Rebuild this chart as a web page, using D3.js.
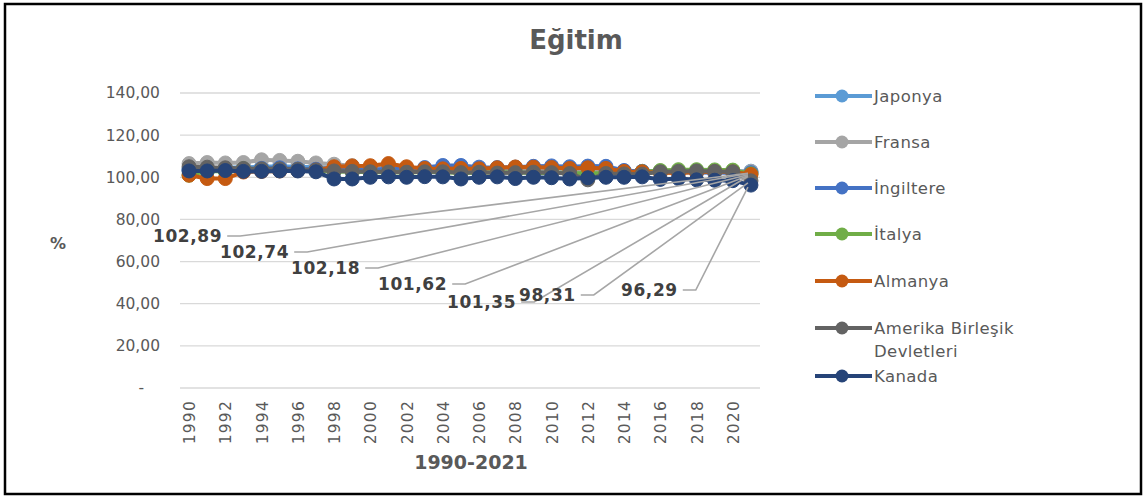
<!DOCTYPE html>
<html>
<head>
<meta charset="utf-8">
<script src="https://cdn.jsdelivr.net/npm/d3@7"></script>
<style>
  html, body { margin: 0; padding: 0; background: #fff; }
  svg { display: block; }
  text { font-family: "DejaVu Sans", sans-serif; }
</style>
</head>
<body>
<svg id="chart" width="1146" height="497"></svg>
<script>
// Education index by country, 1990-2021
const years = d3.range(1990, 2022);
const seriesNames = ["Japonya", "Fransa", "İngiltere", "İtalya", "Almanya", "Amerika Birleşik Devletleri", "Kanada"];

const japonya = [104.0,104.2,104.5,104.8,105.0,105.2,105.0,104.8,104.5,104.0,103.8,103.5,103.6,103.8,104.0,103.9,103.7,103.5,103.4,103.2,103.0,103.1,103.3,103.2,103.0,102.8,102.7,102.6,102.8,102.9,102.9,102.89];
const fransa = [106.5,107.0,106.8,107.0,108.3,108.0,107.6,106.8,106.2,105.5,104.8,104.5,104.2,104.0,103.8,103.9,104.0,103.8,103.6,103.5,103.4,103.2,103.3,103.0,102.9,102.8,102.9,103.0,102.8,102.7,102.8,102.74];
const ingiltere = [103.5,103.8,103.6,103.9,104.2,104.5,104.0,103.8,103.5,103.4,103.6,103.9,104.2,104.6,105.6,105.6,104.8,104.6,104.8,105.2,105.4,105.0,105.3,105.2,103.2,102.8,102.5,102.4,102.3,102.2,102.3,102.18];
const italya = [101.0,103.0,102.8,104.0,103.6,103.5,103.2,103.0,102.8,102.6,102.4,102.5,102.2,102.6,102.4,102.0,102.2,102.4,102.3,102.0,102.2,102.0,101.8,102.0,102.3,102.6,103.2,103.6,103.6,103.5,103.4,101.62];
const almanya = [101.0,99.4,99.4,102.5,102.8,103.0,103.2,103.4,105.0,105.4,105.5,106.5,105.0,104.2,104.0,104.2,104.0,104.5,104.9,104.8,104.6,104.2,104.5,104.2,102.8,102.6,102.2,102.0,102.4,102.6,102.5,101.35];
const amerika = [105.0,104.8,104.5,104.2,104.0,104.0,103.8,103.5,103.0,102.8,102.6,102.5,102.4,102.6,102.6,102.2,102.4,102.0,102.2,102.4,102.2,101.8,98.8,101.8,101.6,101.5,102.6,102.8,103.0,102.8,102.6,98.31];
const kanada = [103.0,103.0,103.2,102.8,102.8,103.0,103.0,102.6,99.2,99.2,100.0,100.2,100.0,100.3,100.2,99.2,100.0,100.2,99.4,100.0,99.8,99.2,99.8,100.0,100.0,100.2,99.0,99.4,98.8,98.6,98.4,96.29];

const yTicks = [0, 20, 40, 60, 80, 100, 120, 140];
const xTickYears = d3.range(1990, 2021, 2);

const colors = ["#5b9bd5", "#a5a5a5", "#4472c4", "#70ad47", "#c55a11", "#636363", "#264478"];
const seriesValues = [japonya, fransa, ingiltere, italya, almanya, amerika, kanada];

const series = seriesNames.map((name, i) => ({
  name, color: colors[i],
  points: years.map((yr, j) => ({ year: yr, value: seriesValues[i][j] }))
}));

const svg = d3.select("#chart");

// outer frame
svg.append("rect").attr("x", 5).attr("y", 4).attr("width", 1136).attr("height", 490)
  .attr("fill", "#fff").attr("stroke", "#000").attr("stroke-width", 2.5);

const x = d3.scalePoint().domain(years).range([180, 760]).padding(0.5);
const y = d3.scaleLinear().domain([0, 140]).range([388, 93]);

const fmt = v => v === 0 ? "-" : d3.format(".2f")(v).replace(".", ",");

// title
svg.append("text").attr("x", 576).attr("y", 49).attr("text-anchor", "middle")
  .attr("font-size", 26).attr("font-weight", "bold").attr("fill", "#595959").text("Eğitim");

// gridlines
svg.append("g").selectAll("line").data(yTicks).join("line")
  .attr("x1", 180).attr("x2", 760)
  .attr("y1", d => y(d)).attr("y2", d => y(d))
  .attr("stroke", "#d9d9d9").attr("stroke-width", 1.3);

// y axis labels
const yAxis = d3.axisLeft(y).tickValues(yTicks).tickFormat(fmt).tickSize(0).tickPadding(0);
const gy = svg.append("g").attr("transform", "translate(160,0)").call(yAxis);
gy.select(".domain").remove();
gy.selectAll("text").attr("font-size", 15.5).attr("fill", "#595959")
  .attr("font-family", "DejaVu Sans, sans-serif")
  .attr("dx", d => d === 0 ? -16 : 0);

// x axis labels
const xAxis = d3.axisBottom(x).tickValues(xTickYears).tickSize(0).tickFormat(d3.format("d"));
const gx = svg.append("g").attr("transform", "translate(0,388)").call(xAxis);
gx.select(".domain").remove();
gx.selectAll("text")
  .attr("font-size", 15.5).attr("fill", "#595959").attr("letter-spacing", 1.2)
  .attr("font-family", "DejaVu Sans, sans-serif")
  .attr("text-anchor", "end").attr("dy", "0.35em")
  .attr("transform", "translate(0,12) rotate(-90)")
  .attr("x", 0).attr("y", 0);

// axis titles
svg.append("text").attr("x", 471).attr("y", 469).attr("text-anchor", "middle")
  .attr("font-size", 19).attr("font-weight", "bold").attr("fill", "#595959").text("1990-2021");
svg.append("text").attr("x", 58).attr("y", 249).attr("text-anchor", "middle")
  .attr("font-size", 16).attr("font-weight", "bold").attr("fill", "#595959").text("%");

// lines and markers
const line = d3.line().x(d => x(d.year)).y(d => y(d.value));
const gSeries = svg.append("g");
series.forEach(s => {
  const g = gSeries.append("g");
  g.append("path").datum(s.points).attr("d", line)
    .attr("fill", "none").attr("stroke", s.color).attr("stroke-width", 4);
  g.selectAll("circle").data(s.points).join("circle")
    .attr("cx", d => x(d.year)).attr("cy", d => y(d.value)).attr("r", 7)
    .attr("fill", s.color).attr("stroke", s.color).attr("stroke-width", 1);
});

// last-point labels with leader lines
const labelSpots = [[153, 236], [220, 252], [291, 268], [378, 284], [447, 302], [519, 295], [621, 290]];
const gLab = svg.append("g");
series.forEach((s, i) => {
  const last = s.points[s.points.length - 1];
  const [lx, cy] = labelSpots[i];
  const t = gLab.append("text").attr("x", lx).attr("y", cy).attr("dy", "0.36em")
    .attr("font-size", 17).attr("font-weight", "bold").attr("fill", "#404040")
    .attr("letter-spacing", 0.6).text(fmt(last.value));
  const w = t.node().getComputedTextLength();
  const sx = lx + w + 5;
  const px = x(last.year), py = y(last.value);
  gLab.insert("polyline", "text")
    .attr("points", `${sx},${cy} ${sx + 13},${cy} ${px - 3},${py + 2}`)
    .attr("fill", "none").attr("stroke", "#a6a6a6").attr("stroke-width", 1.6);
});

// legend
const legendRows = [96, 142, 188, 234, 281, 328, 376];
const gLeg = svg.append("g");
series.forEach((s, i) => {
  const ly = legendRows[i];
  gLeg.append("line").attr("x1", 815).attr("x2", 872).attr("y1", ly).attr("y2", ly)
    .attr("stroke", s.color).attr("stroke-width", 4);
  gLeg.append("circle").attr("cx", 842).attr("cy", ly).attr("r", 6.5).attr("fill", s.color);
  const words = i === 5 ? ["Amerika Birleşik", "Devletleri"] : [s.name];
  const t = gLeg.append("text").attr("x", 874).attr("y", ly)
    .attr("font-size", 16.5).attr("fill", "#595959").attr("letter-spacing", 0.4);
  words.forEach((wd, k) => t.append("tspan").attr("x", 874).attr("dy", k === 0 ? "0.36em" : "1.42em").text(wd));
});
</script>
</body>
</html>
